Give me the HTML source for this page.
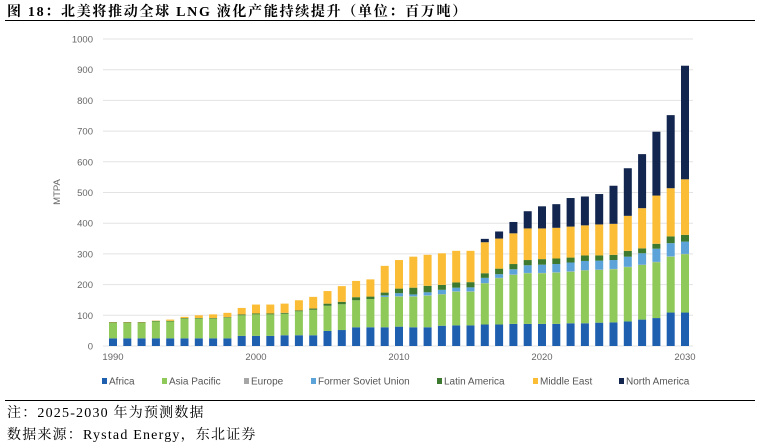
<!DOCTYPE html>
<html><head><meta charset="utf-8">
<style>
body{margin:0;background:#fff;}
#wrap{position:relative;width:760px;height:447px;overflow:hidden;background:#fff;}
.title{position:absolute;left:7px;top:1px;font:bold 14px "Liberation Serif","Noto Serif CJK SC",serif;letter-spacing:1.7px;color:#000;white-space:nowrap;}
.rule{position:absolute;left:5px;width:750px;height:1px;background:#000;}
.foot{position:absolute;left:7px;font:14px "Liberation Serif","Noto Serif CJK SC",serif;letter-spacing:1.2px;color:#000;white-space:nowrap;}
</style></head>
<body><div id="wrap">
<div class="title">图 18：北美将推动全球 LNG 液化产能持续提升（单位：百万吨）</div>
<div class="rule" style="top:20px"></div>
<svg id="chart" width="760" height="447" style="position:absolute;left:0;top:0"></svg>
<div class="rule" style="top:400px"></div>
<div class="foot" style="top:402px">注：2025-2030 年为预测数据</div>
<div class="foot" style="top:424px">数据来源：Rystad Energy，东北证券</div>
</div>
<script>
const years=[];for(let y=1990;y<=2030;y++)years.push(y);
const seriesNames=["Africa","Asia Pacific","Europe","Former Soviet Union","Latin America","Middle East","North America"];
const colors=["#1f5fb0","#8ec95a","#a6a6a6","#5ba3d9","#3d7a2f","#fbbd35","#12264f"];
const africa=[25,25,25,25,25,25,25,25,25,33,33,33,35,35,35,49,52,61,61,61,63,61,61,66,67,67,70,70,72,72,72,72,74,74,76,77,80,86,91,109,109];
const asiaPacific=[50,50,50,55,55,64,64,64,67,67,70,70,70,78,83,82,84,88,92,99,98,100,103,102,110,110,134,151,160,165,165,167,168,172,172,173,177,178,182,182,190];
const europe=[0,0,0,0,0,0,0,0,0,0,0,0,0,0,0,0,0,0,0,0,1,1,1,1,1,1,1,1,1,1,1,1,1,1,1,1,1,1,1,1,1];
const formerSovietUnion=[0,0,0,0,0,0,0,0,0,0,0,0,0,0,0,0,0,0,0,5,10,6,10,14,12,13,17,12,17,25,27,27,29,30,29,29,33,37,43,43,40];
const latinAmerica=[2,2,2,2,2,2,2,2,2,3,3,3,3,3,4,7,8,10,8,9,15,22,21,16,17,17,15,18,17,17,18,18,16,18,17,17,19,16,16,22,22];
const middleEast=[1,1,1,1,4,4,9,12,14,21,29,29,30,33,38,41,51,53,56,87,93,101,101,103,103,102,101,98,100,103,100,100,101,98,101,101,114,131,157,157,181];
const northAmerica=[0,0,0,0,0,0,0,0,0,0,0,0,0,0,0,0,0,0,0,0,0,0,0,0,0,0,11,23,37,56,72,77,93,94,99,124,155,176,208,238,370];
const yTicks=[0,100,200,300,400,500,600,700,800,900,1000];
const xTicks=[1990,2000,2010,2020,2030];
const series=[africa,asiaPacific,europe,formerSovietUnion,latinAmerica,middleEast,northAmerica];
const NS="http://www.w3.org/2000/svg";
const svg=document.getElementById('chart');
const y0=346,yTop=39,yMax=1000;
const yS=v=>y0-(v/yMax)*(y0-yTop);
const xS=yr=>113+(yr-1990)*(685-113)/40;
function mk(t,a){const e=document.createElementNS(NS,t);for(const k in a)e.setAttribute(k,a[k]);svg.appendChild(e);return e;}
yTicks.forEach(v=>{
  const l=mk('line',{x1:103,x2:693,y1:yS(v),y2:yS(v),stroke:'#e3e3e3','stroke-width':1});
  
  
  const t=mk('text',{x:93,y:yS(v)+3.5,'text-anchor':'end','font-size':9.5,fill:'#666','font-family':'Liberation Sans, sans-serif'});
  t.textContent=v;
  
  
});
const yt=mk('text',{x:0,y:0,transform:'translate(60,192) rotate(-90)','text-anchor':'middle','font-size':9.5,fill:'#666','font-family':'Liberation Sans, sans-serif'});
yt.textContent='MTPA';


xTicks.forEach(v=>{
  const t=mk('text',{x:xS(v),y:360,'text-anchor':'middle','font-size':9.5,fill:'#666','font-family':'Liberation Sans, sans-serif'});
  t.textContent=v;
  
  
});
const bw=8;
years.forEach((yr,i)=>{
  let cum=0;
  series.forEach((s,j)=>{
    const v=s[i];if(!v){return;}
    const r=mk('rect',{x:xS(yr)-bw/2,y:yS(cum+v),width:bw,height:yS(cum)-yS(cum+v),fill:colors[j]});
    
    
    cum+=v;
  });
});
const legX=[102,162,244,311,437,533,619];
seriesNames.forEach((n,j)=>{
  const g=document.createElementNS(NS,'g');svg.appendChild(g);
  
  
  const r=document.createElementNS(NS,'rect');
  r.setAttribute('x',legX[j]);r.setAttribute('y',378);r.setAttribute('width',5);r.setAttribute('height',6);r.setAttribute('fill',colors[j]);
  g.appendChild(r);
  const t=document.createElementNS(NS,'text');
  t.setAttribute('x',legX[j]+7);t.setAttribute('y',384.5);t.setAttribute('font-size',10);t.setAttribute('fill','#555');t.setAttribute('font-family','Liberation Sans, sans-serif');
  t.textContent=n;g.appendChild(t);
});
</script>
</body></html>
